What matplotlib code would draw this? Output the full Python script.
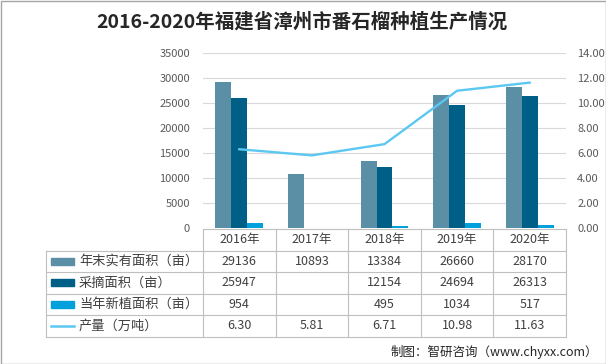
import matplotlib
matplotlib.use("Agg")
import matplotlib.pyplot as plt
from matplotlib.patches import Rectangle
from matplotlib.lines import Line2D

plt.rcParams['font.family'] = ['Noto Sans CJK SC', 'DejaVu Sans']

years = ["2016年", "2017年", "2018年", "2019年", "2020年"]
area_total = [29136, 10893, 13384, 26660, 28170]
area_pick = [25947, None, 12154, 24694, 26313]
area_new = [954, None, 495, 1034, 517]
production = [6.30, 5.81, 6.71, 10.98, 11.63]
series_names = ["年末实有面积（亩）", "采摘面积（亩）", "当年新植面积（亩）", "产量（万吨）"]
left_ticks = [0, 5000, 10000, 15000, 20000, 25000, 30000, 35000]
right_ticks = [0, 2, 4, 6, 8, 10, 12, 14]

c_total = "#5b8fa6"
c_pick = "#005f86"
c_new = "#00a0dc"
c_line = "#5cc8f2"
txt = "#404040"
grid = "#d9d9d9"

W, H = 606, 364
fig = plt.figure(figsize=(W / 100, H / 100), dpi=100)

L, R, T, B = 203, 566, 53, 228
ax = fig.add_axes([L / W, 1 - B / H, (R - L) / W, (B - T) / H])
ax2 = ax.twinx()

n = len(years)
x = list(range(n))
bw = 0.22
def vals(v):
    return [0 if a is None else a for a in v]
ax.bar([i - bw for i in x], area_total, width=bw, color=c_total, zorder=3)
ax.bar([i for i in x], vals(area_pick), width=bw, color=c_pick, zorder=3)
ax.bar([i + bw for i in x], vals(area_new), width=bw, color=c_new, zorder=3)
ax2.plot(x, production, color=c_line, lw=1.7, zorder=4)

ax.set_xlim(-0.5, n - 0.5)
ax.set_ylim(0, 35000)
ax2.set_ylim(0, 14)
ax.set_yticks(left_ticks)
ax.set_yticklabels([str(t) for t in left_ticks])
ax2.set_yticks(right_ticks)
ax2.set_yticklabels([f"{t:.2f}" for t in right_ticks])
ax.set_xticks([])
ax.grid(axis="y", color=grid, lw=0.8, zorder=0)
for a in (ax, ax2):
    for s in a.spines.values():
        s.set_visible(False)
    a.tick_params(axis="y", length=0, labelsize=8, labelcolor="#595959")
ax.tick_params(axis="y", pad=9.5)
ax2.tick_params(axis="y", pad=8)
ax.set_zorder(1)
ax2.set_zorder(2)
ax2.patch.set_visible(False)

# table drawn in pixel coordinates
tax = fig.add_axes([0, 0, 1, 1])
tax.set_xlim(0, W)
tax.set_ylim(H, 0)
tax.axis("off")
tax.patch.set_visible(False)

TL = 46
rows_y = [229, 250.5, 272, 293.5, 315, 336.5]
colw = (R - L) / n
col_x = [L + i * colw for i in range(n + 1)]
lc = "#bfbfbf"
tax.plot([L, R], [rows_y[0], rows_y[0]], color=lc, lw=0.8)
for y in rows_y[1:]:
    tax.plot([TL, R], [y, y], color=lc, lw=0.8)
tax.plot([TL, TL], [rows_y[1], rows_y[-1]], color=lc, lw=0.8)
for cx in col_x:
    tax.plot([cx, cx], [rows_y[0], rows_y[-1]], color=lc, lw=0.8)

fs = 9
for i, yr in enumerate(years):
    cx = L + (i + 0.5) * colw
    tax.text(cx, (rows_y[0] + rows_y[1]) / 2, yr, ha="center", va="center", fontsize=fs, color=txt)

data_rows = [area_total, area_pick, area_new, production]
colors = [c_total, c_pick, c_new, c_line]
for r, (name, dv, col) in enumerate(zip(series_names, data_rows, colors)):
    yc = (rows_y[r + 1] + rows_y[r + 2]) / 2
    if r < 3:
        tax.add_patch(Rectangle((51, yc - 3.5), 23, 7, color=col))
    else:
        tax.add_line(Line2D([51, 74], [yc, yc], color=col, lw=1.8))
    tax.text(79, yc, name, ha="left", va="center", fontsize=9.5, color=txt)
    for i, v in enumerate(dv):
        if v is None:
            continue
        s = f"{v:.2f}" if r == 3 else str(v)
        tax.text(L + (i + 0.5) * colw, yc, s, ha="center", va="center", fontsize=fs, color=txt)

fig.text(302 / W, 1 - 22 / H, "2016-2020年福建省漳州市番石榴种植生产情况", ha="center", va="center",
         fontsize=14, fontweight="bold", color="#262626")
fig.text(598 / W, 1 - 352 / H, "制图：智研咨询（www.chyxx.com）", ha="right", va="center",
         fontsize=9, color="#262626")

tax.add_patch(Rectangle((0.5, 0.5), W - 1, H - 1, fill=False, ec="#a6a6a6", lw=1))

fig.savefig("out.png", dpi=100)
